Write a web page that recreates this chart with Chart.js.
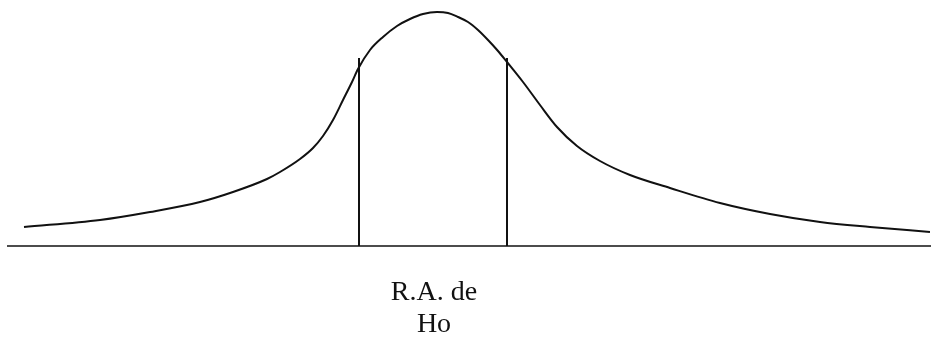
<!DOCTYPE html>
<html>
<head>
<meta charset="utf-8">
<script src="https://cdn.jsdelivr.net/npm/chart.js@4"></script>
<style>
  body { margin: 0; background: #fff; }
  #wrap { width: 931px; height: 339px; }
</style>
</head>
<body>
<div id="wrap"><canvas id="curve"></canvas></div>
<script>
// curve: x position and height above the baseline
const curveX = [24, 100, 150, 200, 233, 267, 280, 300, 313, 323, 333, 343, 352, 358, 370, 383, 397, 410, 423, 437, 448, 458, 468, 478, 488, 498, 507, 523, 540, 557, 577, 600, 630, 670, 720, 770, 820, 870, 930]
const curveY = [19, 26, 34, 44, 54, 67, 74, 87, 98, 110, 126, 146, 164, 177, 196, 209, 220, 227, 232, 234, 233, 229, 224, 216, 206, 195, 184, 164, 141, 119, 100, 85, 71, 58, 43, 32, 24, 19, 14]

// acceptance region bounds and the height of the two vertical lines
const boundsX = [359, 507]
const boundsTop = 188

// horizontal axis line
const axisX = [7, 931]

const labelLines = ["R.A. de", "Ho"]
const labelY = [-54, -86]

const ink = "#111"

function pts(xs, ys) {
  return xs.map((x, i) => ({ x: x, y: ys[i] }))
}

const labelPlugin = {
  id: "regionLabel",
  afterDraw(chart) {
    const ctx = chart.ctx
    const xs = chart.scales.x
    const ys = chart.scales.y
    const cx = xs.getPixelForValue((boundsX[0] + boundsX[1]) / 2)
    ctx.save()
    ctx.fillStyle = ink
    ctx.font = "28px 'Liberation Serif', 'DejaVu Serif', serif"
    ctx.textAlign = "center"
    ctx.textBaseline = "alphabetic"
    labelLines.forEach((t, i) => {
      ctx.fillText(t, cx + 1, ys.getPixelForValue(labelY[i]))
    })
    ctx.restore()
  }
}

new Chart(document.getElementById("curve"), {
  type: "scatter",
  data: {
    datasets: [
      { data: pts(curveX, curveY), showLine: true, cubicInterpolationMode: "monotone", borderColor: ink, borderWidth: 2 },
      { data: pts(axisX, [0, 0]), showLine: true, borderColor: ink, borderWidth: 1.5 },
      { data: pts([boundsX[0], boundsX[0]], [0, boundsTop]), showLine: true, borderColor: ink, borderWidth: 2 },
      { data: pts([boundsX[1], boundsX[1]], [0, boundsTop]), showLine: true, borderColor: ink, borderWidth: 2 }
    ]
  },
  options: {
    responsive: true,
    maintainAspectRatio: false,
    animation: false,
    layout: { padding: 0 },
    elements: { point: { radius: 0, hoverRadius: 0 } },
    plugins: { legend: { display: false }, tooltip: { enabled: false } },
    scales: {
      x: { type: "linear", display: false, min: 0, max: 931 },
      y: { type: "linear", display: false, min: -93, max: 246 }
    }
  },
  plugins: [labelPlugin]
})
</script>
</body>
</html>
